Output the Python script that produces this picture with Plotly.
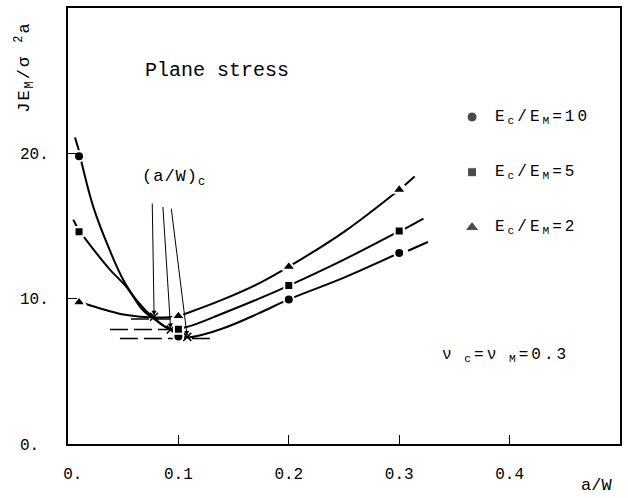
import plotly.graph_objects as go

FONT = "Liberation Mono"

# ---- data ----
x_pts = [0.01, 0.1, 0.2, 0.3]
y_r10 = [19.8, 7.4, 9.95, 13.15]
y_r5 = [14.6, 7.9, 10.9, 14.65]
y_r2 = [9.75, 8.8, 12.2, 17.5]

# fitted curves (sampled from the drawn lines)
c10_x = [0.011, 0.023, 0.038, 0.05, 0.062, 0.08, 0.093, 0.107, 0.14, 0.173, 0.2, 0.25, 0.3]
c10_y = [19.8, 16.3, 13.3, 11.3, 9.9, 8.5, 7.83, 7.35, 7.95, 9.0, 9.95, 11.45, 13.15]
c5_x = [0.011, 0.025, 0.038, 0.053, 0.068, 0.08, 0.093, 0.108, 0.14, 0.173, 0.2, 0.25, 0.3]
c5_y = [14.6, 13.2, 12.0, 10.8, 9.2, 8.5, 7.9, 8.06, 8.98, 10.0, 10.9, 12.69, 14.65]
c2_x = [0.011, 0.035, 0.053, 0.078, 0.1, 0.107, 0.14, 0.173, 0.2, 0.25, 0.3]
c2_y = [9.75, 9.2, 8.87, 8.7, 8.8, 8.98, 9.93, 11.05, 12.2, 14.6, 17.5]

# dashed extensions at curve ends
ext10_left_x, ext10_left_y = [0.0063, 0.0099], [21.1, 20.2]
ext5_left_x, ext5_left_y = [0.0048, 0.0078], [15.44, 14.98]
ext10_right_x, ext10_right_y = [0.308, 0.326], [13.3, 13.9]
ext5_right_x, ext5_right_y = [0.305, 0.322], [14.8, 15.5]
ext2_right_x, ext2_right_y = [0.305, 0.314], [17.8, 18.4]

# critical crack lengths (minima)
crit_x = [0.078, 0.093, 0.108]
crit_y = [8.75, 7.88, 7.37]
crit_arrow_from_x = [0.0763, 0.0859, 0.0934]
crit_arrow_from_y = [16.65, 16.41, 16.3]

# horizontal dashed levels at minima
lvl_y = [8.6, 7.88, 7.26]
lvl_x0 = [0.057, 0.038, 0.047]
lvl_x1 = [0.093, 0.093, 0.132]

# legend
leg_x = 0.366
leg_text_x = 0.385
leg_y = [22.5, 18.7, 14.9]
leg_labels = ["E<sub>c</sub>/E<sub>M</sub>=10", "E<sub>c</sub>/E<sub>M</sub>=5", "E<sub>c</sub>/E<sub>M</sub>=2"]
leg_symbols = ["circle", "square", "triangle-up"]
leg_sizes = [10, 9, 12]

x_tickvals = [0, 0.1, 0.2, 0.3, 0.4]
x_ticktext = ["\u00a00.", "0.1", "0.2", "0.3", "0.4"]
y_tickvals = [0, 10, 20]
y_ticktext = ["0.\u00a0", "10.", "20."]


def spaced(t, px):
    return f'<span style="letter-spacing:{px}px">{t}</span>'


fig = go.Figure()

line_style = dict(color="black", width=2)
for cx, cy in [(c10_x, c10_y), (c5_x, c5_y), (c2_x, c2_y)]:
    fig.add_trace(go.Scatter(x=cx, y=cy, mode="lines", line=dict(shape="spline", smoothing=1.0, **line_style),
                             hoverinfo="skip", showlegend=False))

for ex, ey in [(ext10_left_x, ext10_left_y), (ext5_left_x, ext5_left_y), (ext10_right_x, ext10_right_y),
               (ext5_right_x, ext5_right_y), (ext2_right_x, ext2_right_y)]:
    fig.add_trace(go.Scatter(x=ex, y=ey, mode="lines", line=line_style, hoverinfo="skip", showlegend=False))

for ly, lx0, lx1 in zip(lvl_y, lvl_x0, lvl_x1):
    fig.add_trace(go.Scatter(x=[lx0, lx1], y=[ly, ly], mode="lines",
                             line=dict(color="black", width=1.3, dash="18px,6px"),
                             hoverinfo="skip", showlegend=False))

fig.add_trace(go.Scatter(x=crit_x, y=crit_y, mode="markers",
                         marker=dict(symbol="x-thin", size=8, line=dict(color="black", width=1.5)),
                         hoverinfo="skip", showlegend=False))

for ys, sym, sz in zip([y_r10, y_r5, y_r2], leg_symbols, leg_sizes):
    fig.add_trace(go.Scatter(x=x_pts, y=ys, mode="markers",
                             marker=dict(symbol=sym, size=sz, color="black", line=dict(color="white", width=2)),
                             showlegend=False))

fig.add_trace(go.Scatter(x=[leg_x] * 3, y=leg_y, mode="markers",
                         marker=dict(symbol=leg_symbols, size=leg_sizes, color="black"),
                         hoverinfo="skip", showlegend=False))

annotations = []
for ly, lt in zip(leg_y, leg_labels):
    annotations.append(dict(x=leg_text_x, y=ly, xref="x", yref="y", text=spaced(lt, 3), showarrow=False,
                            xanchor="left", yanchor="middle", font=dict(family=FONT, size=16, color="black")))

for fx, fy, tx, ty in zip(crit_arrow_from_x, crit_arrow_from_y, crit_x, crit_y):
    annotations.append(dict(x=tx, y=ty, ax=fx, ay=fy, xref="x", yref="y", axref="x", ayref="y",
                            text="", showarrow=True, arrowhead=2, arrowsize=1, arrowwidth=1,
                            arrowcolor="black", standoff=1))

annotations += [
    dict(x=0.0676, y=25.7, xref="x", yref="y", text="Plane stress", showarrow=False,
         xanchor="left", yanchor="middle", font=dict(family=FONT, size=20, color="black")),
    dict(x=0.065, y=18.3, xref="x", yref="y", text=spaced("(a/W)<sub>c</sub>", 1), showarrow=False,
         xanchor="left", yanchor="middle", font=dict(family=FONT, size=17, color="black")),
    dict(x=0.337, y=6.1, xref="x", yref="y", text=spaced("ν<sub> c</sub>=ν<sub> M</sub>=0.3", 3),
         showarrow=False, xanchor="left", yanchor="middle", font=dict(family=FONT, size=16, color="black")),
    dict(x=0.479, y=-0.095, xref="x", yref="paper", text="a/W", showarrow=False,
         xanchor="center", yanchor="middle", font=dict(family=FONT, size=17, color="black")),
    dict(x=-0.078, y=0.865, xref="paper", yref="paper", text=spaced("JE<sub>M</sub>/σ <sup>2</sup>a", 2),
         showarrow=False, textangle=-90, xanchor="center", yanchor="middle",
         font=dict(family=FONT, size=17, color="black")),
]

fig.update_layout(
    width=628, height=498,
    margin=dict(l=68, r=6, t=7, b=54),
    paper_bgcolor="white", plot_bgcolor="white",
    font=dict(family=FONT, size=16, color="black"),
    annotations=annotations,
    showlegend=False,
)
fig.update_xaxes(range=[0, 0.5], tickvals=x_tickvals, ticktext=x_ticktext, ticks="inside", ticklen=9,
                 tickwidth=1.3, tickcolor="black", showline=True, linecolor="black", linewidth=2, mirror=True,
                 showgrid=False, zeroline=False, ticklabelstandoff=14)
fig.update_yaxes(range=[0, 30], tickvals=y_tickvals, ticktext=y_ticktext, ticks="inside", ticklen=9,
                 tickwidth=1.3, tickcolor="black", showline=True, linecolor="black", linewidth=2, mirror=True,
                 showgrid=False, zeroline=False, ticklabelstandoff=14)

fig.write_html("out.html", config={"displayModeBar": False},
               post_script="document.body.style.margin='0';document.body.style.overflow='hidden';")
